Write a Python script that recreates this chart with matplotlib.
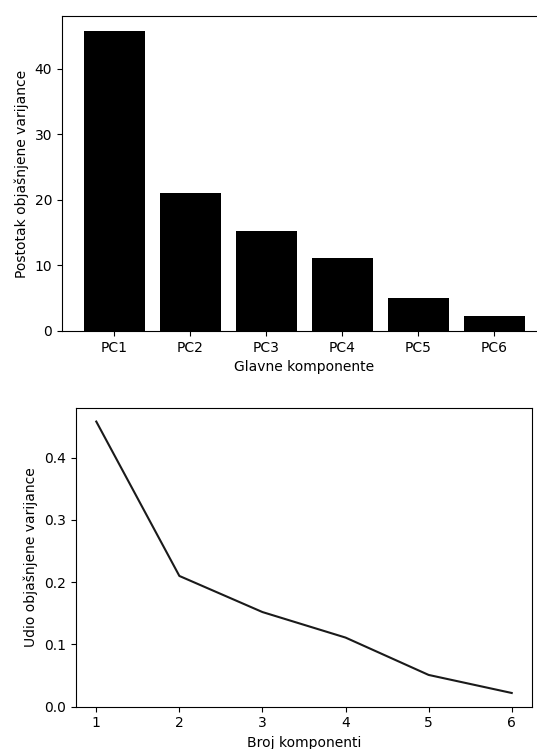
import matplotlib
matplotlib.use("Agg")
import matplotlib.pyplot as plt

# udjeli objašnjene varijance po glavnim komponentama
komponente = ["PC1", "PC2", "PC3", "PC4", "PC5", "PC6"]
postotak = [45.8, 21.0, 15.3, 11.1, 5.1, 2.3]

broj_komponenti = [1, 2, 3, 4, 5, 6]
udio = [0.458, 0.210, 0.152, 0.111, 0.051, 0.022]

fig = plt.figure(figsize=(5.37, 7.49), dpi=100)

# gornji graf - stupci
ax1 = fig.add_axes([0.1155, 0.5581, 0.903, 0.4206])
ax1.bar(komponente, postotak, color="black")
ax1.set_xlabel("Glavne komponente")
ax1.set_ylabel("Postotak objašnjene varijance")

# donji graf - linija
ax2 = fig.add_axes([0.1406, 0.0565, 0.851, 0.3988])
ax2.plot(broj_komponenti, udio, color="#1a1a1a", linewidth=1.5)
ax2.set_ylim(0)
ax2.set_xlabel("Broj komponenti")
ax2.set_ylabel("Udio objašnjene varijance")

fig.savefig("out.png", dpi=100)
